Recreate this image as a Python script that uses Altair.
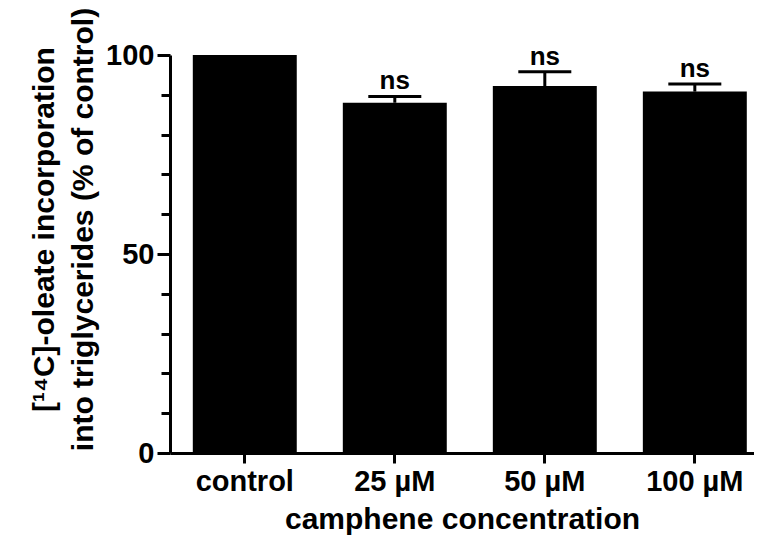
import altair as alt
import pandas as pd

categories = ["control", "25 µM", "50 µM", "100 µM"]
means = [100.0, 88.0, 92.2, 90.8]
sems = [0.0, 1.6, 3.6, 1.9]
sig_labels = ["", "ns", "ns", "ns"]
y_ticks = [0, 10, 20, 30, 40, 50, 60, 70, 80, 90, 100]
y_title = ["[¹⁴C]-oleate incorporation", "into triglycerides (% of control)"]
x_title = "camphene concentration"

df = pd.DataFrame({
    "cat": categories,
    "mean": means,
    "upper": [m + s for m, s in zip(means, sems)],
    "sig": sig_labels,
})
err_df = df[df["cat"] != "control"]

FONT = "Liberation Sans"

x_axis = alt.Axis(
    labelAngle=0, tickSize=10, tickWidth=3, tickColor="black",
    domainWidth=3, domainColor="black",
    labelFont=FONT, labelFontSize=29, labelFontWeight="bold", labelColor="black",
    labelPadding=4,
    title=x_title, titleFont=FONT, titleFontSize=30, titleFontWeight="bold",
    titleColor="black", titlePadding=8,
)
x_scale = alt.Scale(paddingInner=0.307, paddingOuter=0.1, align=0.76)

y_scale = alt.Scale(domain=[0, 100], nice=False)
y_axis = alt.Axis(
    values=y_ticks,
    labelExpr="datum.value % 50 === 0 ? datum.label : ''",
    tickSize={"condition": {"test": "datum.value % 50 === 0", "value": 13}, "value": 9},
    tickWidth=3, tickColor="black", domainWidth=3, domainColor="black",
    labelFont=FONT, labelFontSize=29, labelFontWeight="bold", labelColor="black",
    labelPadding=3, grid=False, labelOverlap=False,
    title=y_title, titleFont=FONT, titleFontSize=30, titleFontWeight="bold",
    titleColor="black", titleAngle=270, titleX=-117, titleY=174,
    titleAlign="center", titleBaseline="alphabetic", titleLineHeight=39,
)


def xe():
    return alt.X("cat:N", sort=categories, scale=x_scale, axis=x_axis)


def ye(field):
    return alt.Y(field, type="quantitative", scale=y_scale, axis=y_axis)


bars = alt.Chart(df).mark_bar(color="black", opacity=1).encode(
    x=xe(),
    y=ye("mean"),
)

err = alt.Chart(err_df)
stems = err.mark_rule(color="black", strokeWidth=3, opacity=1).encode(
    x=xe(),
    y=ye("mean"),
    y2="upper:Q",
)
caps = err.mark_tick(color="black", size=53, thickness=3, opacity=1).encode(
    x=xe(),
    y=ye("upper"),
)
texts = err.mark_text(
    dy=-7, baseline="alphabetic", fontSize=26, fontWeight="bold", font=FONT, color="black"
).encode(
    x=xe(),
    y=ye("upper"),
    text="sig:N",
)

chart = alt.layer(bars, stems, caps, texts).properties(
    width=584,
    height=398,
    autosize=alt.AutoSizeParams(type="none"),
    padding={"left": 162, "top": 47, "right": 0, "bottom": 83},
    background="white",
).configure_view(stroke=None)

chart.save("out.html", embed_options={"renderer": "svg", "actions": False})
